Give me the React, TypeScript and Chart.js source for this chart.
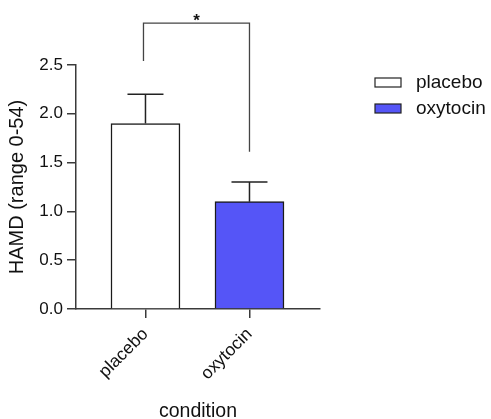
import React, { useEffect, useRef } from 'react';
import { Chart, registerables } from 'chart.js';

Chart.register(...registerables);

// ---- data ----
const categories = ['placebo', 'oxytocin'];
const means = [1.9, 1.1];
const errors = [0.3, 0.2];
const barColors = ['#FFFFFF', '#5555F7'];
const yTicks = [0, 0.5, 1.0, 1.5, 2.0, 2.5];
const yTitle = 'HAMD (range 0-54)';
const xTitle = 'condition';
const significance = '*';
const bracketTop = 2.93;
const bracketLegEnds = [2.54, 1.61];

const FONT = "'Liberation Sans', Arial, Helvetica, sans-serif";
const INK = '#111111';
const AXIS = '#3a3a3a';

export default function App() {
  const ref = useRef<HTMLCanvasElement | null>(null);

  useEffect(() => {
    const canvas = ref.current;
    if (!canvas) return;

    const errorBars = {
      id: 'errorBars',
      afterDatasetsDraw(chart: any) {
        const { ctx } = chart;
        const yS = chart.scales.y;
        const meta = chart.getDatasetMeta(0);
        ctx.save();
        ctx.strokeStyle = '#222';
        ctx.lineWidth = 1.5;
        meta.data.forEach((el: any, i: number) => {
          const x = el.x;
          const yb = yS.getPixelForValue(means[i]);
          const yt = yS.getPixelForValue(means[i] + errors[i]);
          ctx.beginPath();
          ctx.moveTo(x, yb);
          ctx.lineTo(x, yt);
          ctx.moveTo(x - 18, yt);
          ctx.lineTo(x + 18, yt);
          ctx.stroke();
        });
        ctx.restore();
      },
    };

    const bracket = {
      id: 'bracket',
      afterDraw(chart: any) {
        const { ctx } = chart;
        const xS = chart.scales.x;
        const yS = chart.scales.y;
        const x1 = xS.getPixelForValue(0) - 2;
        const x2 = xS.getPixelForValue(1);
        const yt = yS.getPixelForValue(bracketTop);
        ctx.save();
        ctx.strokeStyle = '#444';
        ctx.lineWidth = 1.3;
        ctx.beginPath();
        ctx.moveTo(x1, yS.getPixelForValue(bracketLegEnds[0]));
        ctx.lineTo(x1, yt);
        ctx.lineTo(x2, yt);
        ctx.lineTo(x2, yS.getPixelForValue(bracketLegEnds[1]));
        ctx.stroke();
        ctx.fillStyle = INK;
        ctx.font = `bold 17px ${FONT}`;
        ctx.textAlign = 'center';
        ctx.textBaseline = 'alphabetic';
        ctx.fillText(significance, (x1 + x2) / 2, yt + 3);
        ctx.restore();
      },
    };

    const legendPlugin = {
      id: 'customLegend',
      afterDraw(chart: any) {
        const { ctx, chartArea } = chart;
        const lx = chartArea.right + 55;
        const ly = chartArea.top + 13;
        ctx.save();
        ctx.font = `19px ${FONT}`;
        ctx.textBaseline = 'middle';
        ctx.textAlign = 'left';
        categories.forEach((c, i) => {
          const y = ly + i * 26;
          ctx.fillStyle = barColors[i];
          ctx.fillRect(lx, y, 26, 9);
          ctx.strokeStyle = '#222';
          ctx.lineWidth = 1.2;
          ctx.strokeRect(lx, y, 26, 9);
          ctx.fillStyle = INK;
          ctx.fillText(c, lx + 41, y + 5);
        });
        ctx.restore();
      },
    };

    const chart = new Chart(canvas, {
      type: 'bar',
      data: {
        datasets: [
          {
            data: categories.map((c, i) => ({ x: i, y: means[i] })),
            backgroundColor: barColors,
            borderColor: '#1a1a1a',
            borderWidth: 1.5,
            barThickness: 69,
          } as any,
        ],
      },
      options: {
        animation: false,
        responsive: false,
        maintainAspectRatio: false,
        layout: { padding: { left: 1, top: 65, right: 171, bottom: 0 } },
        plugins: {
          legend: { display: false },
          tooltip: { enabled: false },
        },
        scales: {
          x: {
            type: 'linear',
            min: -0.668,
            max: 1.678,
            offset: false,
            grid: { display: true, drawOnChartArea: false, drawTicks: true, tickLength: 9, color: AXIS, lineWidth: 1.5, offset: false },
            border: { display: true, color: AXIS, width: 1.5 },
            afterBuildTicks: (s: any) => {
              s.ticks = categories.map((_, i) => ({ value: i }));
            },
            afterFit: (s: any) => {
              s.height = 110;
            },
            ticks: {
              autoSkip: false,
              maxRotation: 45,
              minRotation: 45,
              padding: 6,
              color: INK,
              font: { family: FONT, size: 17.5 },
              callback: (v: any) => categories[Math.round(Number(v))] ?? '',
            },
            title: {
              display: true,
              text: xTitle,
              color: INK,
              font: { family: FONT, size: 19.5, lineHeight: 0.8 },
              padding: { top: 0, bottom: 0 },
            },
          } as any,
          y: {
            min: 0,
            max: 2.5,
            grid: { display: true, drawOnChartArea: false, drawTicks: true, tickLength: 9, color: AXIS, lineWidth: 1.5 },
            border: { display: true, color: AXIS, width: 1.5 },
            afterBuildTicks: (s: any) => {
              s.ticks = yTicks.map((v) => ({ value: v }));
            },
            afterFit: (s: any) => {
              s.width = 75;
            },
            ticks: {
              padding: 4,
              color: INK,
              font: { family: FONT, size: 17 },
              callback: (v: any) => Number(v).toFixed(1),
            },
            title: {
              display: true,
              text: yTitle,
              color: INK,
              font: { family: FONT, size: 20 },
              padding: { top: 4, bottom: 0 },
            },
          } as any,
        },
      },
      plugins: [errorBars, bracket, legendPlugin],
    });

    return () => chart.destroy();
  }, []);

  return (
    <div style={{ position: 'fixed', left: 0, top: 0, width: 491, height: 419, background: '#fff' }}>
      <canvas ref={ref} width={491} height={419} style={{ display: 'block', width: 491, height: 419 }} />
    </div>
  );
}
